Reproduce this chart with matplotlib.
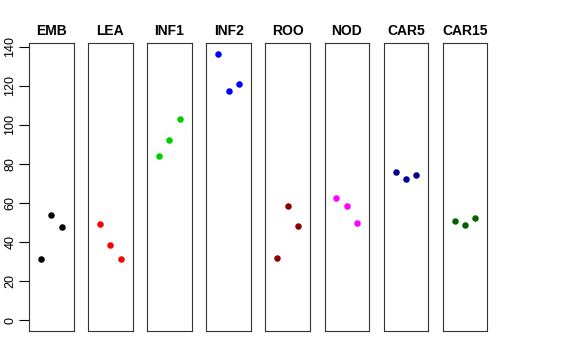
import matplotlib
matplotlib.use("Agg")
import matplotlib.pyplot as plt

plt.rcParams['font.family'] = ['Liberation Sans', 'DejaVu Sans']

groups = ["EMB", "LEA", "INF1", "INF2", "ROO", "NOD", "CAR5", "CAR15"]
colors = ["black", "red", "#00CD00", "blue", "#8B0000", "magenta", "#00008B", "#006400"]
xs = [1, 2, 3]
values = [
    [31.6, 53.8, 47.8],
    [49.2, 38.6, 31.5],
    [83.9, 92.0, 102.9],
    [136.2, 117.3, 120.8],
    [32.1, 58.7, 48.3],
    [62.4, 58.7, 49.7],
    [76.0, 72.1, 74.5],
    [51.0, 48.8, 52.4],
]
yticks = [0, 20, 40, 60, 80, 100, 120, 140]

W, H = 576, 360
fig = plt.figure(figsize=(W / 100, H / 100), dpi=100)

ymin, ymax = -5.4, 141.8
for i, (name, col, vals) in enumerate(zip(groups, colors, values)):
    left = 29 + 59.1 * i
    ax = fig.add_axes([left / W, 29 / H, 44.5 / W, 288 / H])
    ax.scatter(xs, vals, color=col, s=22, linewidths=0, zorder=3)
    ax.set_xlim(-0.16, 4.16)
    ax.set_ylim(ymin, ymax)
    ax.set_xticks([])
    for sp in ax.spines.values():
        sp.set_linewidth(0.8)
        sp.set_color("#333333")
    ax.set_title(name, fontsize=10, fontweight="bold", pad=6)
    if i == 0:
        ax.set_yticks(yticks)
        ax.set_yticklabels([str(t) for t in yticks], rotation=90, va="center", fontsize=9)
        ax.tick_params(axis="y", length=7, width=0.8, pad=2)
    else:
        ax.set_yticks([])

fig.savefig("out.png", dpi=100)
